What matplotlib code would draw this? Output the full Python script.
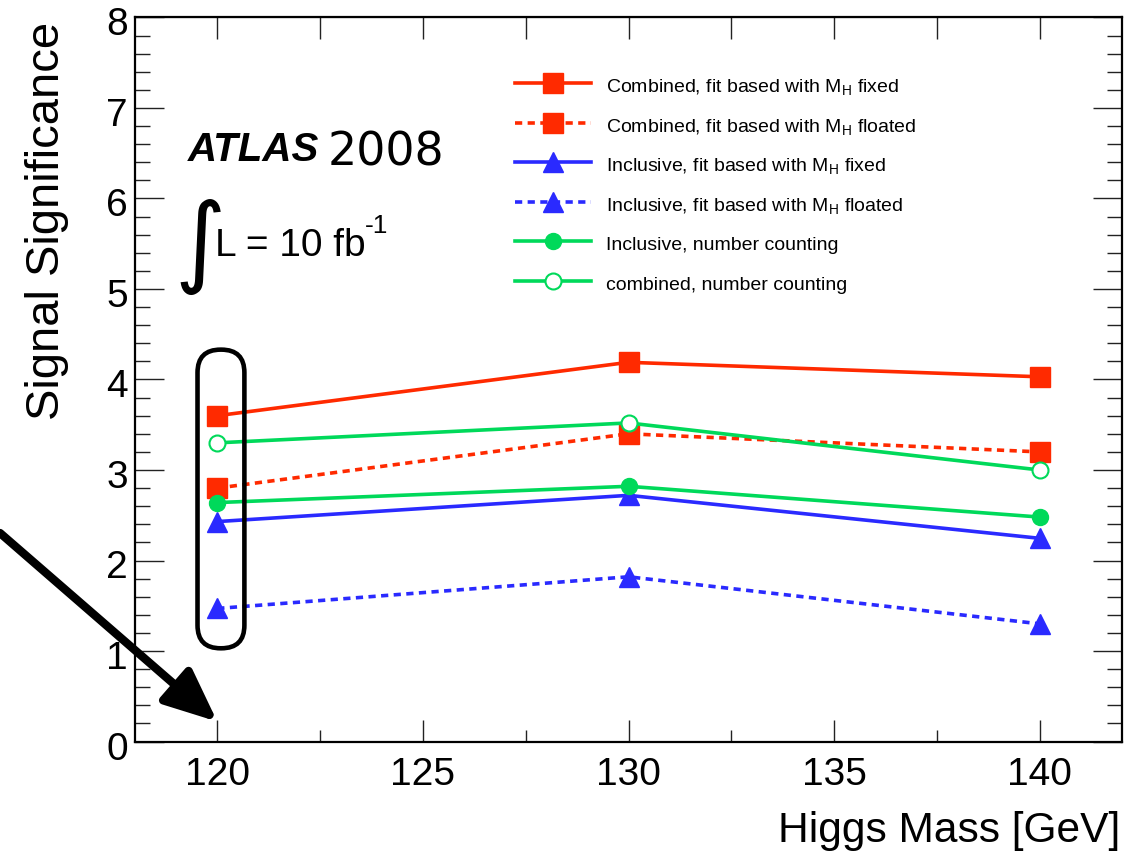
import matplotlib
matplotlib.use("Agg")
import matplotlib.pyplot as plt
import matplotlib.transforms as mtransforms
from matplotlib.patches import FancyBboxPatch

plt.rcParams['font.family'] = ['Liberation Sans', 'DejaVu Sans']
plt.rcParams['mathtext.fontset'] = 'custom'
plt.rcParams['mathtext.rm'] = 'Liberation Sans'
plt.rcParams['mathtext.it'] = 'Liberation Sans:italic'
plt.rcParams['mathtext.bf'] = 'Liberation Sans:bold'

# ---------------- data ----------------
masses = [120, 130, 140]
comb_fit_fixed = [3.60, 4.19, 4.03]
comb_fit_float = [2.80, 3.40, 3.20]
incl_fit_fixed = [2.43, 2.72, 2.245]
incl_fit_float = [1.47, 1.82, 1.30]
incl_count = [2.64, 2.82, 2.48]
comb_count = [3.30, 3.52, 3.00]

labels = [
    r'Combined, fit based with M$_\mathrm{H}$ fixed',
    r'Combined, fit based with M$_\mathrm{H}$ floated',
    r'Inclusive, fit based with M$_\mathrm{H}$ fixed',
    r'Inclusive, fit based with M$_\mathrm{H}$ floated',
    'Inclusive, number counting',
    'combined, number counting',
]
x_ticks = [120, 125, 130, 135, 140]
y_ticks = [0, 1, 2, 3, 4, 5, 6, 7, 8]

RED = '#ff2a00'
BLUE = '#2a2aff'
GREEN = '#00d95a'

fig = plt.figure(figsize=(11.38, 8.51), dpi=100)
ax = fig.add_axes([135/1138, (851-741.5)/851, 987/1138, 724/851])

lw = 2.6
dash = (2.0, 1.5)
ax.plot(masses, comb_fit_fixed, color=RED, lw=lw, marker='s', ms=14, mec=RED, label=labels[0])
ax.plot(masses, comb_fit_float, color=RED, lw=lw, ls=(0, dash), marker='s', ms=14, mec=RED, label=labels[1])
ax.plot(masses, incl_fit_fixed, color=BLUE, lw=lw, marker='^', ms=14, mec=BLUE, label=labels[2])
ax.plot(masses, incl_fit_float, color=BLUE, lw=lw, ls=(0, dash), marker='^', ms=14, mec=BLUE, label=labels[3])
ax.plot(masses, incl_count, color=GREEN, lw=lw, marker='o', ms=11.5, mec=GREEN, label=labels[4])
ax.plot(masses, comb_count, color=GREEN, lw=lw, marker='o', ms=11.5, mfc='white', mec=GREEN, mew=1.5, label=labels[5])

ax.set_xlim(118, 142)
ax.set_ylim(0, 8)
ax.set_xticks(x_ticks)
ax.set_xticks([122.5, 127.5, 132.5, 137.5], minor=True)
ax.set_yticks(y_ticks)
ax.set_yticks([v / 5 for v in range(0, 41) if v % 5 != 0], minor=True)
ax.tick_params(axis='both', which='both', direction='in', width=1.0, color='#222222')
ax.tick_params(axis='x', which='major', length=16, pad=11, labelsize=28)
ax.tick_params(axis='x', which='minor', length=8.6)
ax.tick_params(axis='y', which='major', length=21, pad=5, labelsize=28, right=True)
ax.tick_params(axis='y', which='minor', length=10.8, right=True)
for s in ax.spines.values():
    s.set_linewidth(1.6)

ydown = mtransforms.ScaledTranslation(0, -4/100, fig.dpi_scale_trans)
for lab in ax.get_yticklabels():
    lab.set_transform(lab.get_transform() + ydown)

top = ax.secondary_xaxis('top')
top.set_xticks([120, 122.5, 125, 127.5, 130, 132.5, 135, 137.5, 140])
top.tick_params(direction='in', length=16, width=1.0, color='#222222', labeltop=False)
top.set_xticklabels([])

ax.set_ylabel('Signal Significance', fontsize=34, loc='top')
ax.yaxis.set_label_coords(-0.067, 0.994)
ax.set_xlabel('Higgs Mass [GeV]', fontsize=30.6, loc='right', va='baseline')
ax.xaxis.set_label_coords(0.998, -0.1388)

leg = ax.legend(loc='upper left', bbox_to_anchor=(0.385, 0.922), frameon=False,
                fontsize=14, handlelength=3.9, handletextpad=0.8,
                handleheight=1.45, labelspacing=0.85,
                borderpad=0, borderaxespad=0)

# annotations
ax.text(0.054, 0.802, 'ATLAS', transform=ax.transAxes, fontsize=29,
        fontweight='bold', fontstyle='italic', va='baseline')
ax.text(0.195, 0.795, '2008', transform=ax.transAxes, fontsize=33,
        family='DejaVu Sans', va='baseline')
ax.text(0.040, 0.646, '\u222b', transform=ax.transAxes, fontsize=71,
        family='DejaVu Sans', va='baseline')
ax.text(0.081, 0.671, 'L = 10 fb', transform=ax.transAxes, fontsize=28,
        va='baseline')
ax.text(0.233, 0.702, '-1', transform=ax.transAxes, fontsize=19,
        va='baseline')

box = FancyBboxPatch((119.52, 1.03), 1.14, 3.30,
                     boxstyle='round,pad=0,rounding_size=0.56',
                     mutation_aspect=0.454, transform=ax.transData,
                     fill=False, ec='black', lw=3.3, clip_on=False, zorder=5)
ax.add_patch(box)

ax.annotate('', xy=(120.0, 0.22), xycoords='data',
            xytext=(0.0, (851-533)/851), textcoords='figure fraction',
            arrowprops=dict(arrowstyle='-|>,head_length=1.6,head_width=0.7',
                            lw=6, color='black', shrinkA=0, shrinkB=0,
                            mutation_scale=20),
            annotation_clip=False)

fig.savefig('out.png', dpi=100)
